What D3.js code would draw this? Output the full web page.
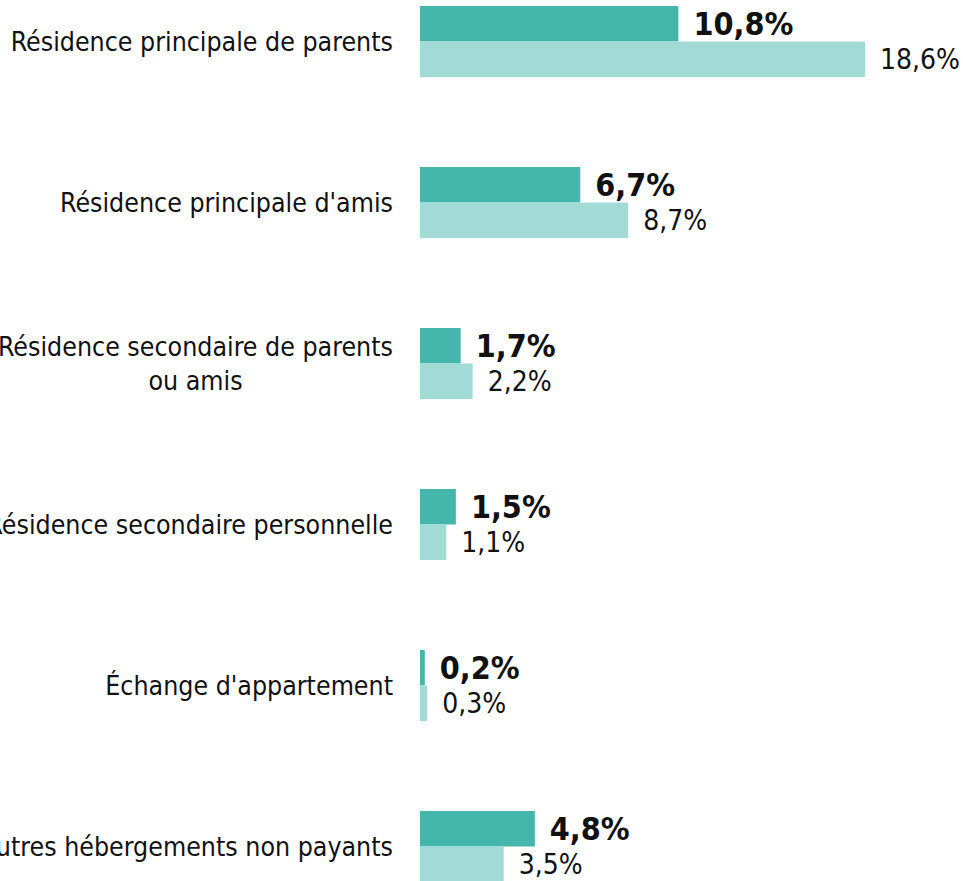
<!DOCTYPE html>
<html>
<head>
<meta charset="utf-8">
<script src="https://cdn.jsdelivr.net/npm/d3@7"></script>
<style>
  body { margin: 0; background: #fff; }
  svg { display: block; font-family: "DejaVu Sans Condensed", "DejaVu Sans", sans-serif; }
</style>
</head>
<body>
<div id="chart"></div>
<script>
const categories = [
  ["Résidence principale de parents"],
  ["Résidence principale d'amis"],
  ["Résidence secondaire de parents", "ou amis"],
  ["Résidence secondaire personnelle"],
  ["Échange d'appartement"],
  ["Autres hébergements non payants"]
];
const seriesA = [10.8, 6.7, 1.7, 1.5, 0.2, 4.8];
const seriesB = [18.6, 8.7, 2.2, 1.1, 0.3, 3.5];
const seriesKeys = ["a", "b"];

const width = 963, height = 881;
const fmt = v => d3.format(".1f")(v).replace(".", ",") + "%";

const rows = categories.map((c, i) => ({ key: c.join(" "), lines: c, a: seriesA[i], b: seriesB[i] }));

const svg = d3.select("#chart").append("svg")
  .attr("width", width).attr("height", height);

const x = d3.scaleLinear().domain([0, 18.6]).range([420, 865]);
const y = d3.scaleBand().domain(rows.map(d => d.key)).range([6, 882]).paddingInner(0.559).paddingOuter(0);
const yIn = d3.scaleBand().domain(seriesKeys).range([0, y.bandwidth()]);
const color = d3.scaleOrdinal().domain(seriesKeys).range(["#45b6ac", "#a2dbd6"]);

const g = svg.selectAll(".grp").data(rows).enter().append("g")
  .attr("class", "grp")
  .attr("transform", d => "translate(0," + y(d.key) + ")");

seriesKeys.forEach(k => {
  g.append("rect")
    .attr("x", x(0))
    .attr("y", yIn(k))
    .attr("width", d => x(d[k]) - x(0))
    .attr("height", yIn.bandwidth())
    .attr("fill", color(k));

  g.append("text")
    .attr("x", d => x(d[k]) + 15)
    .attr("y", yIn(k) + yIn.bandwidth() / 2)
    .attr("dy", "0.36em")
    .attr("font-size", k === "a" ? 32 : 28)
    .attr("font-weight", k === "a" ? "bold" : "normal")
    .attr("fill", "#111")
    .text(d => fmt(d[k]));
});

// category labels, lines centred on each other, block right-aligned
g.each(function (d) {
  const t = d3.select(this).append("text")
    .attr("font-size", 26.5)
    .attr("fill", "#111");
  const n = d.lines.length;
  const lh = 34;
  const tsp = t.selectAll("tspan").data(d.lines).enter().append("tspan")
    .attr("y", (l, i) => y.bandwidth() / 2 + (i - (n - 1) / 2) * lh)
    .attr("dy", "0.36em")
    .text(l => l);
  let maxW = 0;
  tsp.each(function () { maxW = Math.max(maxW, this.getComputedTextLength()); });
  tsp.attr("x", 393 - maxW / 2).attr("text-anchor", "middle");
});
</script>
</body>
</html>
